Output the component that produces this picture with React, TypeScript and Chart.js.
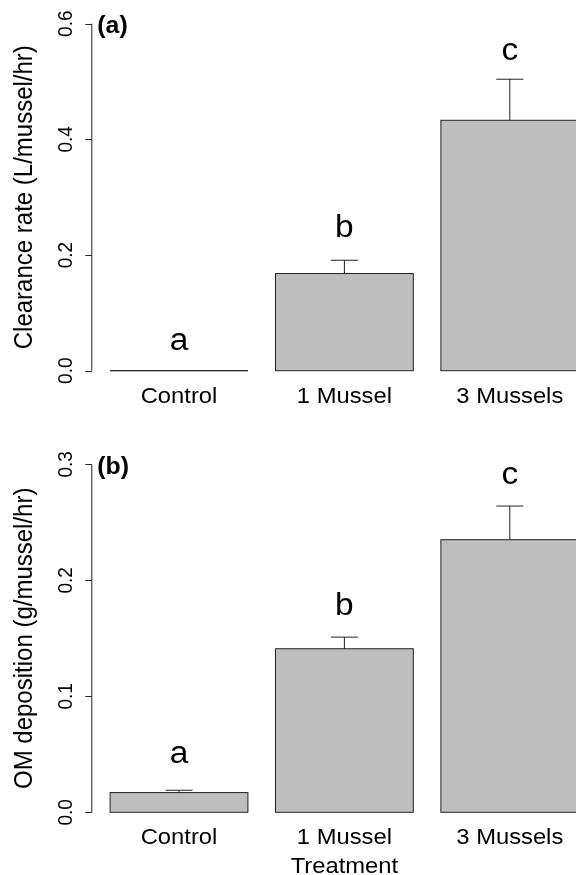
import React, { useEffect, useRef } from "react";
import { Chart, registerables } from "chart.js";

Chart.register(...registerables);

// ---- data ----
const categories = ["Control", "1 Mussel", "3 Mussels"];

const clearanceMeans = [0, 0.168, 0.433];
const clearanceErrTop = [0, 0.191, 0.504];
const clearanceLetters = ["a", "b", "c"];
const clearanceLetterPos = [0.035, 0.232, 0.537];
const clearanceTicks = [0, 0.2, 0.4, 0.6];

const depositionMeans = [0.017, 0.141, 0.235];
const depositionErrTop = [0.019, 0.151, 0.264];
const depositionLetters = ["a", "b", "c"];
const depositionLetterPos = [0.0425, 0.17, 0.283];
const depositionTicks = [0, 0.1, 0.2, 0.3];

const FONT = "'Liberation Sans', Arial, Helvetica, sans-serif";
const SX = 1.08; // horizontal stretch of the original figure's text
const INK = "#222";

function drawText(
  ctx: CanvasRenderingContext2D,
  text: string,
  x: number,
  y: number,
  font: string,
  align: CanvasTextAlign,
  baseline: CanvasTextBaseline,
  rotate = 0
) {
  ctx.save();
  ctx.translate(x, y);
  ctx.scale(SX, 1);
  if (rotate) ctx.rotate(rotate);
  ctx.font = font;
  ctx.textAlign = align;
  ctx.textBaseline = baseline;
  ctx.fillStyle = "#000";
  ctx.fillText(text, 0, 0);
  ctx.restore();
}

type PanelProps = {
  values: number[];
  errTop: number[];
  letters: string[];
  letterPos: number[];
  ticks: number[];
  yTitle: string;
  xTitle?: string;
  panelLabel: string;
  top: number;
  height: number;
  padTop: number;
  padBottom: number;
};

function Panel(p: PanelProps) {
  const ref = useRef<HTMLCanvasElement | null>(null);
  useEffect(() => {
    if (!ref.current) return;
    const plugin = {
      id: "rstyle",
      afterDatasetsDraw(chart: any) {
        const ctx: CanvasRenderingContext2D = chart.ctx;
        const { left, top, bottom } = chart.chartArea;
        const ys = chart.scales.y;
        const axisX = left - 5;
        const meta = chart.getDatasetMeta(0);
        ctx.save();
        ctx.strokeStyle = INK;
        ctx.lineWidth = 1;
        meta.data.forEach((bar: any, i: number) => {
          const b = bar.getProps(["x", "y", "base", "width"], true);
          ctx.strokeRect(b.x - b.width / 2, b.y, b.width, b.base - b.y);
          const ye = ys.getPixelForValue(p.errTop[i]);
          if (Math.abs(ye - b.y) > 0.5) {
            const cap = b.width * 0.098;
            ctx.beginPath();
            ctx.moveTo(b.x, b.y);
            ctx.lineTo(b.x, ye);
            ctx.moveTo(b.x - cap, ye);
            ctx.lineTo(b.x + cap, ye);
            ctx.stroke();
          }
          drawText(ctx, p.letters[i], b.x, ys.getPixelForValue(p.letterPos[i]), `31px ${FONT}`, "center", "alphabetic");
          drawText(ctx, categories[i], b.x, bottom + 32, `22px ${FONT}`, "center", "alphabetic");
        });
        const y0 = ys.getPixelForValue(p.ticks[0]);
        const y1 = ys.getPixelForValue(p.ticks[p.ticks.length - 1]);
        ctx.beginPath();
        ctx.moveTo(axisX + 0.5, y0);
        ctx.lineTo(axisX + 0.5, y1);
        p.ticks.forEach((t) => {
          const ty = Math.round(ys.getPixelForValue(t)) + 0.5;
          ctx.moveTo(axisX + 0.5, ty);
          ctx.lineTo(axisX - 6, ty);
        });
        ctx.stroke();
        p.ticks.forEach((t) => {
          drawText(ctx, t.toFixed(1), axisX - 19.5, ys.getPixelForValue(t), `19px ${FONT}`, "center", "alphabetic", -Math.PI / 2);
        });
        drawText(ctx, p.yTitle, axisX - 59, (top + bottom) / 2, `24px ${FONT}`, "center", "alphabetic", -Math.PI / 2);
        if (p.xTitle) {
          const cx = (chart.chartArea.left + chart.chartArea.right) / 2;
          drawText(ctx, p.xTitle, cx, bottom + 61, `22px ${FONT}`, "center", "alphabetic");
        }
        drawText(ctx, p.panelLabel, axisX + 6, top + 9.5, `bold 23px ${FONT}`, "left", "alphabetic");
        ctx.restore();
      },
    };
    const chart = new Chart(ref.current, {
      type: "bar",
      data: {
        labels: categories,
        datasets: [
          {
            data: p.values,
            backgroundColor: "#bebebe",
            borderWidth: 0,
            barPercentage: 1 / 1.2,
            categoryPercentage: 1,
          },
        ],
      },
      options: {
        animation: false,
        responsive: false,
        devicePixelRatio: 1,
        layout: { padding: { top: p.padTop, bottom: p.padBottom, left: 96.3, right: 7.5 } },
        scales: {
          x: { display: false },
          y: { display: false, min: p.ticks[0], max: p.ticks[p.ticks.length - 1] },
        },
        plugins: { legend: { display: false }, tooltip: { enabled: false } },
      },
      plugins: [plugin],
    } as any);
    return () => chart.destroy();
  }, []);
  return (
    <canvas
      ref={ref}
      width={600}
      height={p.height}
      style={{ position: "absolute", left: 0, top: p.top, width: 600, height: p.height }}
    />
  );
}

export default function App() {
  return (
    <div
      style={{
        position: "fixed",
        left: 0,
        top: 0,
        width: 576,
        height: 875,
        overflow: "hidden",
        background: "#fff",
      }}
    >
      <Panel
        values={clearanceMeans}
        errTop={clearanceErrTop}
        letters={clearanceLetters}
        letterPos={clearanceLetterPos}
        ticks={clearanceTicks}
        yTitle="Clearance rate (L/mussel/hr)"
        panelLabel="(a)"
        top={0}
        height={437}
        padTop={23.7}
        padBottom={66.3}
      />
      <Panel
        values={depositionMeans}
        errTop={depositionErrTop}
        letters={depositionLetters}
        letterPos={depositionLetterPos}
        ticks={depositionTicks}
        yTitle="OM deposition (g/mussel/hr)"
        xTitle="Treatment"
        panelLabel="(b)"
        top={437}
        height={438}
        padTop={27.3}
        padBottom={62.7}
      />
    </div>
  );
}
